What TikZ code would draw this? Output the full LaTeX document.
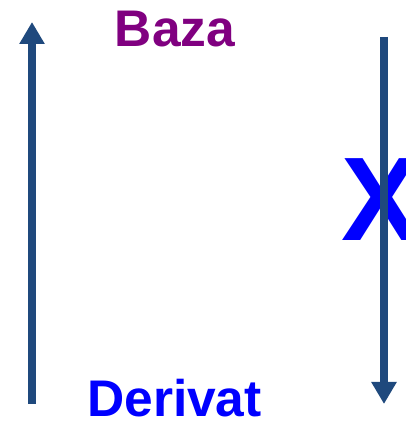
\documentclass[tikz,border=0pt]{standalone}
\usepackage{fontspec}
\setmainfont{Liberation Sans}
\usetikzlibrary{arrows.meta}
\definecolor{arrowblue}{HTML}{1F497D}
\definecolor{bazapurple}{HTML}{800080}
\definecolor{derblue}{HTML}{0000FF}
\begin{document}
\begin{tikzpicture}[x=1pt,y=1pt,
  arrowline/.style={draw=arrowblue,line width=8pt,-{Triangle[width=24pt,length=22pt]}},
  label/.style={inner sep=0pt,font=\fontsize{51.5}{60}\selectfont\bfseries}]
\useasboundingbox[fill=white] (0,0) rectangle (406,421);
\node[label,text=bazapurple,anchor=base] (baza) at (175,374) {Baza};
\node[label,text=derblue,anchor=base] (derivat) at (174.5,5) {Derivat};
\node[inner sep=0pt,anchor=base west,text=derblue,font=\fontsize{119}{130}\selectfont\bfseries] (x) at (341,180) {X};
\coordinate (lbot) at (32,17);
\coordinate (ltop) at (32,399);
\coordinate (rtop) at (384,384);
\coordinate (rbot) at (384,17);
\draw[arrowline] (lbot) -- (ltop);
\draw[arrowline] (rtop) -- (rbot);
\end{tikzpicture}
\end{document}
